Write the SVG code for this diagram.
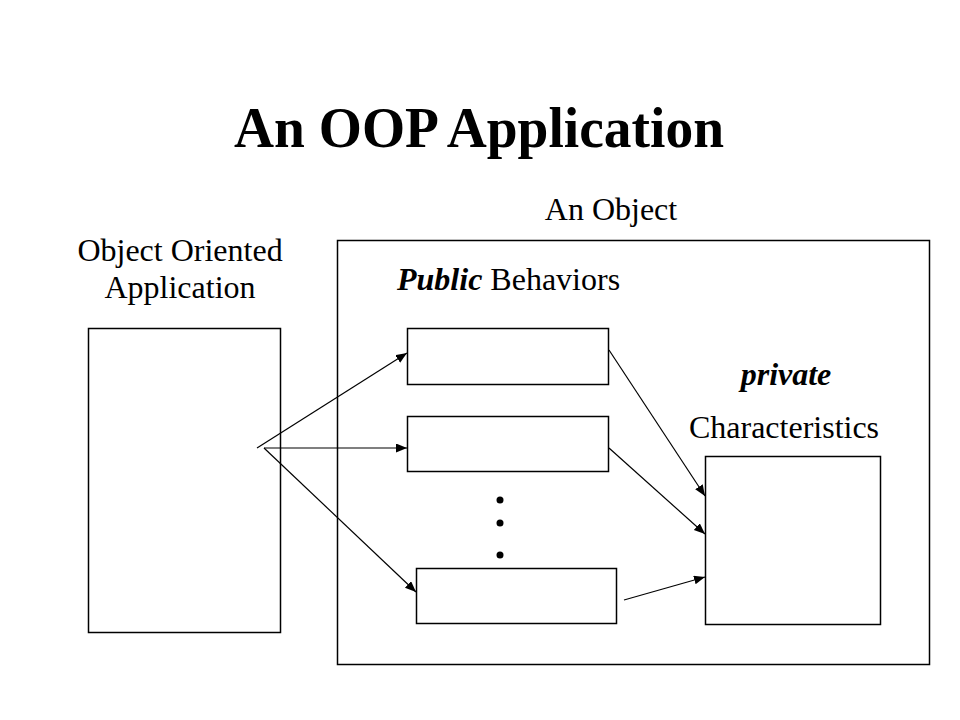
<svg xmlns="http://www.w3.org/2000/svg" width="960" height="720" viewBox="0 0 960 720">
<style>
.box{fill:#fff;stroke:#000;stroke-width:1.5}
.t{font-family:"Liberation Serif","Times New Roman",serif;font-size:32px;fill:#000}
.c{stroke:#000;stroke-width:1.2;fill:none;marker-end:url(#ah)}
</style>
<defs>
<marker id="ah" markerUnits="userSpaceOnUse" markerWidth="12" markerHeight="10" refX="11" refY="4.5" orient="auto">
<path d="M0,0 L11,4.5 L0,9 Z" fill="#000"/>
</marker>
</defs>
<rect width="960" height="720" fill="#fff"/>
<g id="title">
<text x="479" y="147" text-anchor="middle" textLength="490" lengthAdjust="spacingAndGlyphs" style="font-family:'Liberation Serif','Times New Roman',serif;font-size:58px;font-weight:bold">An OOP Application</text>
</g>
<g id="app">
<text class="t" x="180" y="261" text-anchor="middle">Object Oriented</text>
<text class="t" x="180" y="298" text-anchor="middle">Application</text>
<rect class="box" x="88.5" y="328.5" width="192" height="304"/>
</g>
<g id="object">
<text class="t" x="611" y="220" text-anchor="middle">An Object</text>
<rect class="box" x="337.5" y="240.5" width="592" height="424"/>
<text class="t" x="397" y="290"><tspan font-weight="bold" font-style="italic">Public</tspan> Behaviors</text>
</g>
<g id="behavior1"><rect class="box" x="407.5" y="328.5" width="201" height="56"/></g>
<g id="behavior2"><rect class="box" x="407.5" y="416.5" width="201" height="55"/></g>
<g id="behavior3"><rect class="box" x="416.5" y="568.5" width="200" height="55"/></g>
<g id="dots">
<circle cx="500" cy="500" r="3.5"/>
<circle cx="500" cy="523" r="3.5"/>
<circle cx="500" cy="555" r="3.5"/>
</g>
<g id="characteristics">
<text class="t" x="786" y="385" text-anchor="middle" font-weight="bold" font-style="italic">private</text>
<text class="t" x="784" y="438" text-anchor="middle">Characteristics</text>
<rect class="box" x="705.5" y="456.5" width="175" height="168"/>
</g>
<g id="connectors">
<path class="c" d="M257,448 L407,353"/>
<path class="c" d="M264,448 L407,448"/>
<path class="c" d="M264,448 L416,592"/>
<path class="c" d="M609,350 L705,496"/>
<path class="c" d="M609,448 L705,534"/>
<path class="c" d="M624,600 L705,577"/>
</g>
</svg>
